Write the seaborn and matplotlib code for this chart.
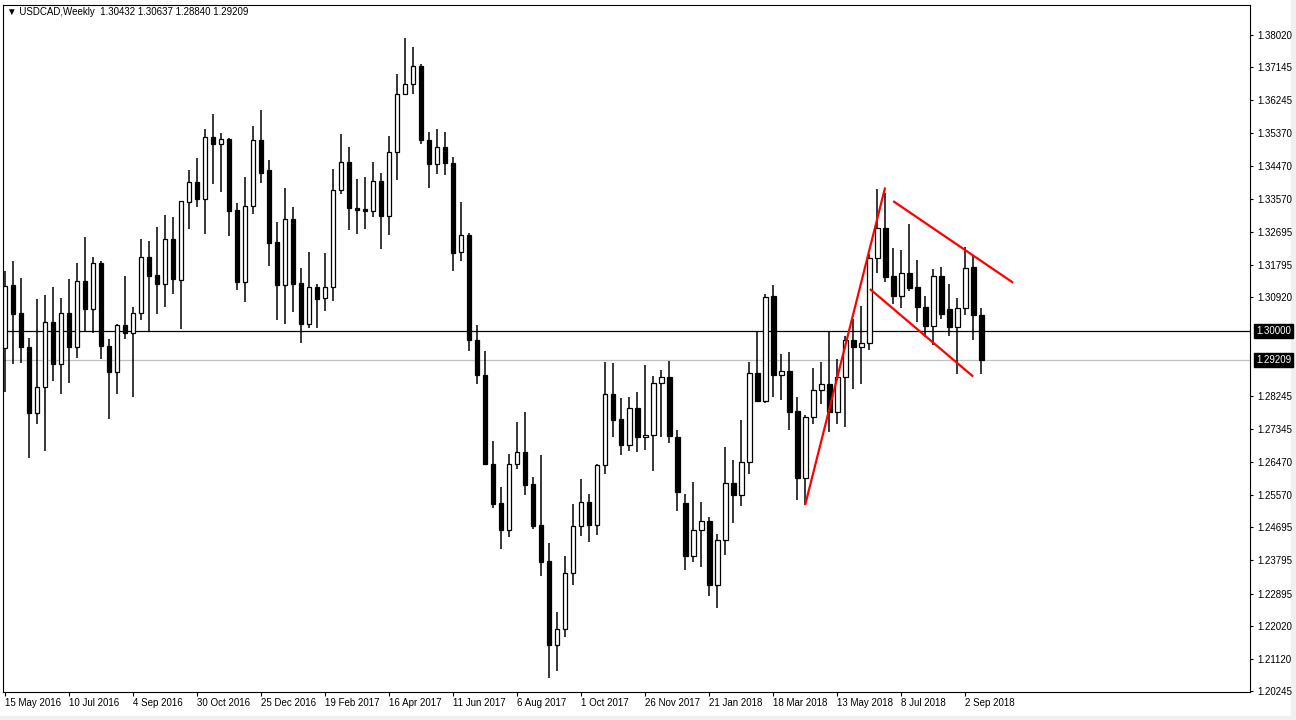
import numpy as np
import pandas as pd
import matplotlib
matplotlib.use("Agg")
import matplotlib.pyplot as plt
import matplotlib.transforms as mtransforms
import seaborn as sns

# Weekly USDCAD candles, first bar = week of 15 May 2016
start_date = "2016-05-15"

opens = [
    1.29543, 1.31251, 1.30495, 1.29578, 1.27790, 1.28492, 1.30245, 1.29112, 1.30487, 1.29570,
    1.31359, 1.30595, 1.31844, 1.29597, 1.28885, 1.30164, 1.29948, 1.30487, 1.31998, 1.31520,
    1.31286, 1.32483, 1.31394, 1.33497, 1.34047, 1.33589, 1.35261, 1.35072, 1.35207, 1.33266,
    1.31323, 1.33400, 1.35180, 1.34371, 1.32402, 1.31259, 1.33023, 1.31297, 1.30180, 1.31189,
    1.30892, 1.31189, 1.33832, 1.34587, 1.33346, 1.33300, 1.33255, 1.34074, 1.33120, 1.34857,
    1.36421, 1.36690, 1.37184, 1.35180, 1.34533, 1.34991, 1.34560, 1.32141, 1.32591, 1.29759,
    1.28823, 1.26415, 1.25344, 1.24608, 1.26415, 1.26739, 1.25857, 1.24743, 1.23772, 1.21496,
    1.21927, 1.23448, 1.24716, 1.25371, 1.24759, 1.26369, 1.28303, 1.27610, 1.26917, 1.27925,
    1.27132, 1.27186, 1.28599, 1.28761, 1.27143, 1.25336, 1.23923, 1.24608, 1.24851, 1.23114,
    1.24338, 1.25876, 1.25568, 1.26469, 1.28869, 1.28103, 1.30954, 1.28804, 1.28923, 1.27825,
    1.26018, 1.27682, 1.28411, 1.28573, 1.27807, 1.28750, 1.29767, 1.29570, 1.29678, 1.31971,
    1.32780, 1.31485, 1.30946, 1.31566, 1.31189, 1.30657, 1.30137, 1.31485, 1.30595, 1.30099,
    1.30622, 1.31728, 1.30432,
]

highs = [
    1.31636, 1.31906, 1.31439, 1.29821, 1.30873, 1.30981, 1.31197, 1.30900, 1.31412, 1.31852,
    1.32545, 1.32006, 1.31898, 1.29775, 1.30199, 1.31501, 1.30649, 1.32491, 1.32437, 1.32815,
    1.33139, 1.33085, 1.33535, 1.34352, 1.34676, 1.35477, 1.35889, 1.35369, 1.35234, 1.33481,
    1.34182, 1.35558, 1.35997, 1.34622, 1.32950, 1.33867, 1.33354, 1.31709, 1.32141, 1.31270,
    1.32114, 1.34379, 1.35350, 1.34972, 1.34109, 1.34163, 1.34568, 1.34271, 1.35269, 1.36968,
    1.37939, 1.37696, 1.37238, 1.35404, 1.35485, 1.35404, 1.34703, 1.33489, 1.32653, 1.30153,
    1.29452, 1.27016, 1.25776, 1.26666, 1.27529, 1.27798, 1.26064, 1.26647, 1.24257, 1.22404,
    1.23915, 1.25317, 1.25983, 1.25587, 1.26400, 1.29174, 1.29147, 1.28195, 1.28222, 1.28357,
    1.29093, 1.28788, 1.28950, 1.29193, 1.27332, 1.25587, 1.25902, 1.25371, 1.24958, 1.24500,
    1.26873, 1.26504, 1.27583, 1.29166, 1.30002, 1.31008, 1.31251, 1.29382, 1.29444, 1.28203,
    1.27720, 1.29004, 1.29166, 1.30002, 1.29255, 1.29867, 1.30334, 1.30684, 1.32087, 1.33840,
    1.33751, 1.32240, 1.32195, 1.32888, 1.31925, 1.30954, 1.31682, 1.31744, 1.31278, 1.30900,
    1.32267, 1.32060, 1.30637,
]

lows = [
    1.28357, 1.29101, 1.29139, 1.26558, 1.27483, 1.26766, 1.28643, 1.28292, 1.28599, 1.29274,
    1.30010, 1.29948, 1.29247, 1.27618, 1.28292, 1.29775, 1.28222, 1.30288, 1.30002, 1.30468,
    1.30665, 1.31016, 1.30045, 1.32761, 1.33362, 1.32626, 1.33975, 1.33767, 1.32580, 1.31116,
    1.30800, 1.33174, 1.34010, 1.31771, 1.30288, 1.30180, 1.30531, 1.29678, 1.30072, 1.30072,
    1.30558, 1.30827, 1.33713, 1.32742, 1.32634, 1.32761, 1.33093, 1.32230, 1.32607, 1.34091,
    1.36383, 1.36410, 1.35061, 1.33875, 1.34252, 1.34225, 1.31636, 1.31906, 1.29452, 1.28581,
    1.26377, 1.25217, 1.24112, 1.24435, 1.26269, 1.25568, 1.24651, 1.23383, 1.20606, 1.20805,
    1.21722, 1.23125, 1.24462, 1.24300, 1.24489, 1.26134, 1.27132, 1.26647, 1.26755, 1.26728,
    1.26782, 1.26215, 1.27132, 1.26970, 1.25136, 1.23545, 1.23761, 1.23626, 1.22817, 1.22493,
    1.23950, 1.24805, 1.25263, 1.26126, 1.28068, 1.28050, 1.28230, 1.28122, 1.27313, 1.25425,
    1.25282, 1.27483, 1.28014, 1.27259, 1.27483, 1.27402, 1.28446, 1.28562, 1.29479, 1.31574,
    1.31323, 1.30738, 1.30638, 1.31097, 1.30245, 1.29829, 1.29632, 1.30315, 1.29856, 1.28850,
    1.30423, 1.29748, 1.28840,
]

closes = [
    1.31232, 1.30477, 1.29570, 1.27780, 1.28492, 1.30245, 1.29101, 1.30487, 1.29570, 1.31350,
    1.30595, 1.31844, 1.29597, 1.28885, 1.30164, 1.29948, 1.30487, 1.31998, 1.31501, 1.31286,
    1.32483, 1.31412, 1.33535, 1.34047, 1.33578, 1.35261, 1.35061, 1.35207, 1.33255, 1.31323,
    1.33400, 1.35180, 1.34279, 1.32391, 1.31259, 1.33023, 1.31286, 1.30180, 1.31189, 1.30881,
    1.31189, 1.33832, 1.34587, 1.33335, 1.33281, 1.33255, 1.34074, 1.33120, 1.34857, 1.36421,
    1.36690, 1.37176, 1.35169, 1.34522, 1.34991, 1.34549, 1.32122, 1.32591, 1.29748, 1.28804,
    1.26396, 1.25325, 1.24608, 1.26415, 1.26739, 1.25838, 1.24732, 1.23761, 1.21496, 1.21927,
    1.23448, 1.24716, 1.25371, 1.24759, 1.26369, 1.28303, 1.27602, 1.26917, 1.27925, 1.27132,
    1.27197, 1.28599, 1.28761, 1.27159, 1.25649, 1.23923, 1.24608, 1.24851, 1.23114, 1.24338,
    1.25876, 1.25568, 1.26469, 1.28869, 1.28103, 1.30919, 1.28804, 1.28923, 1.27807, 1.26018,
    1.27682, 1.28411, 1.28573, 1.27807, 1.28750, 1.29759, 1.29560, 1.29678, 1.31971, 1.32780,
    1.31474, 1.30946, 1.31566, 1.31178, 1.30649, 1.30126, 1.31485, 1.30477, 1.30099, 1.30630,
    1.31701, 1.30423, 1.29209,
]

# price scale labels on the right
ytick_vals = [1.38020, 1.37145, 1.36245, 1.35370, 1.34470, 1.33570, 1.32695, 1.31795,
              1.30920, 1.28245, 1.27345, 1.26470, 1.25570, 1.24695, 1.23795, 1.22895,
              1.22020, 1.21120, 1.20245]

level_line = 1.30000
bid_price = 1.29209

# hand-drawn trendlines: (bar start, bar end), (price start, price end)
trend_bars = [(100, 110), (111, 126), (108.1, 121)]
trend_prices = [(1.2529, 1.3389), (1.3352, 1.3131), (1.3114, 1.2877)]

header = "\u25bc USDCAD,Weekly  1.30432 1.30637 1.28840 1.29209"

# build frame
df = pd.DataFrame({"open": opens, "high": highs, "low": lows, "close": closes})
df["date"] = pd.date_range(start_date, periods=len(df), freq="7D")
df["bar"] = np.arange(len(df))
df["up"] = df["close"] >= df["open"]
df["body_lo"] = df[["open", "close"]].min(axis=1)
df["body_h"] = (df["close"] - df["open"]).abs().clip(lower=0.00003)

sns.set_theme(style="white")
plt.rcParams["font.family"] = ["Liberation Sans", "DejaVu Sans"]

fig = plt.figure(figsize=(12.96, 7.2), dpi=100)
fig.patch.set_facecolor("white")
ax = fig.add_axes([3 / 1296, 28 / 720, 1247 / 1296, 687 / 720])
ax.set_facecolor("white")

# level line and bid line
ax.axhline(level_line, color="black", lw=0.9, zorder=1)
ax.axhline(bid_price, color="#c0c0c0", lw=0.9, zorder=1)

# wicks and bodies
ax.vlines(df["bar"], df["low"], df["high"], color="black", lw=1.1, zorder=2)
ax.bar(df["bar"], df["body_h"], bottom=df["body_lo"], width=0.6,
       color=np.where(df["up"], "white", "black"), edgecolor="black",
       linewidth=0.9, zorder=3)

# trendlines
for xs, ys in zip(trend_bars, trend_prices):
    ax.plot(xs, ys, color="#ff0000", lw=1.6, zorder=4, solid_capstyle="butt")

ax.set_xlim(-0.25, 155.6)
ax.set_ylim(1.2023, 1.38829)

# x axis: every 8th week, labels start at the tick
tick_bars = df["bar"][::8]
tick_labels = [f"{d.day} {d.strftime('%b %Y')}" for d in df["date"][::8]]
ax.set_xticks(tick_bars)
ax.set_xticklabels(tick_labels, ha="left")
ax.tick_params(axis="x", bottom=True, direction="out", length=3, width=0.8,
               pad=1.5, labelsize=7, colors="black")

# y axis on the right
ax.yaxis.tick_right()
ax.set_yticks(ytick_vals)
ax.set_yticklabels([f"{v:.5f}" for v in ytick_vals])
ax.tick_params(axis="y", right=True, left=False, direction="out", length=2.5,
               width=0.8, pad=2.5, labelsize=7, colors="black")
ax.grid(False)

for s in ax.spines.values():
    s.set_color("black")
    s.set_linewidth(0.8)
    s.set_visible(True)

# boxed price labels
trans = mtransforms.blended_transform_factory(ax.transAxes, ax.transData)
for val in [level_line, bid_price]:
    ax.text(1.0 + 6 / 1247, val, f"{val:.5f}", transform=trans, ha="left", va="center",
            fontsize=7, color="white", clip_on=False, zorder=6,
            bbox=dict(boxstyle="square,pad=0.2", fc="black", ec="black"))

# header
fig.text(7 / 1296, 1 - 12 / 720, header, ha="left", va="center", fontsize=7, color="black")

# window edges
fig.add_artist(plt.Rectangle((1291 / 1296, 0), 5 / 1296, 1, transform=fig.transFigure,
                             color="#f0f0f0", zorder=0))
fig.add_artist(plt.Rectangle((0, 0), 1, 4 / 720, transform=fig.transFigure,
                             color="#f0f0f0", zorder=0))

fig.savefig("out.png", dpi=100)
plt.close(fig)
